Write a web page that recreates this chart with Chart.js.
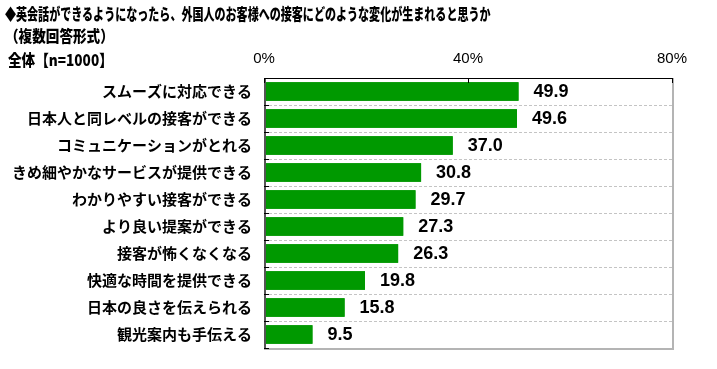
<!DOCTYPE html>
<html><head><meta charset="utf-8">
<script src="https://cdn.jsdelivr.net/npm/chart.js@4"></script>
<style>
html,body{margin:0;padding:0;background:#fff;width:717px;height:369px;overflow:hidden;}
#wrap{position:relative;width:717px;height:369px;}
canvas{position:absolute;left:0;top:0;}
.t{position:absolute;left:5px;font-family:"Noto Sans CJK JP",sans-serif;font-weight:900;color:#000;white-space:nowrap;transform-origin:0 50%;line-height:1;}
</style></head>
<body><div id="wrap">
<canvas id="c" width="717" height="369"></canvas>
<div class="t" id="t1" style="top:5px;font-size:16px;transform:scaleX(0.69)">◆英会話ができるようになったら、外国人のお客様への接客にどのような変化が生まれると思うか</div>
<div class="t" id="t2" style="top:27px;font-size:16px;transform:scaleX(0.85)">（複数回答形式）</div>
<div class="t" id="t3" style="top:51px;left:8px;font-size:16px;transform:scaleX(0.85)">全体【n=1000】</div>
</div>
<script>
const categories = ["スムーズに対応できる","日本人と同レベルの接客ができる","コミュニケーションがとれる","きめ細やかなサービスが提供できる","わかりやすい接客ができる","より良い提案ができる","接客が怖くなくなる","快適な時間を提供できる","日本の良さを伝えられる","観光案内も手伝える"];
const values = [49.9,49.6,37.0,30.8,29.7,27.3,26.3,19.8,15.8,9.5];
const xTicks = [0,40,80];

const framePlugin = {
  id:'frame',
  afterDatasetsDraw(chart){
    const ctx = chart.ctx, a = chart.chartArea;
    const x = chart.scales.x, y = chart.scales.y;
    ctx.save();
    const step = y.getPixelForValue(1)-y.getPixelForValue(0);
    // dashed separators
    ctx.strokeStyle = '#c4c4c4';
    ctx.lineWidth = 1;
    ctx.setLineDash([3,2]);
    for(let i=1;i<categories.length;i++){
      const py = Math.round((y.getPixelForValue(i-1)+y.getPixelForValue(i))/2)+0.5;
      ctx.beginPath(); ctx.moveTo(a.left,py); ctx.lineTo(a.right,py); ctx.stroke();
    }
    ctx.setLineDash([]);
    // bars redrawn on top of separators
    const meta = chart.getDatasetMeta(0);
    meta.data.forEach(bar=>bar.draw(ctx));
    // value labels
    ctx.font = 'bold 18px Arial, "Liberation Sans", sans-serif';
    ctx.fillStyle = '#000';
    ctx.textBaseline = 'middle';
    ctx.textAlign = 'left';
    meta.data.forEach((bar,i)=>{
      ctx.fillText(values[i].toFixed(1), bar.x + 15, bar.y + 1);
    });
    // border
    ctx.strokeStyle = '#b4b4b4';
    ctx.lineWidth = 2;
    ctx.beginPath();
    ctx.moveTo(a.right+1, a.top);
    ctx.lineTo(a.right+1, a.bottom+1);
    ctx.lineTo(a.left, a.bottom+1);
    ctx.stroke();
    ctx.strokeStyle = '#000';
    ctx.lineWidth = 1;
    ctx.beginPath();
    ctx.moveTo(a.right, a.top+0.5);
    ctx.lineTo(a.left, a.top+0.5);
    ctx.stroke();
    ctx.strokeStyle = '#555';
    ctx.lineWidth = 2;
    ctx.beginPath();
    ctx.moveTo(a.left+1, a.top);
    ctx.lineTo(a.left+1, a.bottom+1);
    ctx.stroke();
    ctx.strokeStyle = '#000';
    ctx.lineWidth = 1;
    // top tick marks
    xTicks.forEach(v=>{
      const px = Math.round(x.getPixelForValue(v))+0.5;
      ctx.beginPath(); ctx.moveTo(px,a.top); ctx.lineTo(px,a.top+5); ctx.stroke();
    });
    // left tick marks at category boundaries
    for(let i=0;i<=categories.length;i++){
      let py;
      if(i===0) py = y.getPixelForValue(0) - step/2;
      else if(i===categories.length) py = y.getPixelForValue(i-1) + step/2;
      else py = (y.getPixelForValue(i-1)+y.getPixelForValue(i))/2;
      py = Math.round(py)+0.5;
      ctx.beginPath(); ctx.moveTo(a.left,py); ctx.lineTo(a.left+5,py); ctx.stroke();
    }
    ctx.restore();
  }
};

new Chart(document.getElementById('c'),{
  type:'bar',
  data:{labels:categories,datasets:[{data:values,backgroundColor:'#009900',borderWidth:0,barPercentage:0.68,categoryPercentage:1.0}]},
  options:{
    indexAxis:'y',
    responsive:false,
    animation:false,
    layout:{padding:{left:0,right:45,top:0,bottom:8}},
    plugins:{legend:{display:false},tooltip:{enabled:false},title:{display:false}},
    scales:{
      x:{
        position:'top',min:0,max:80,
        afterBuildTicks(s){s.ticks = xTicks.map(v=>({value:v}));},
        afterFit(s){s.height = 78;},
        ticks:{callback:v=>v+'%',color:'#000',font:{family:'Arial, "Liberation Sans", sans-serif',size:15},padding:10,maxRotation:0},
        grid:{display:false,drawTicks:false},
        border:{display:false}
      },
      y:{
        afterFit(s){s.width = 264;},
        ticks:{color:'#000',font:{family:'"Noto Sans CJK JP", sans-serif',size:15,weight:'bold'},padding:12,autoSkip:false},
        grid:{display:false,drawTicks:false},
        border:{display:false}
      }
    }
  },
  plugins:[framePlugin]
});
</script>
</body></html>
